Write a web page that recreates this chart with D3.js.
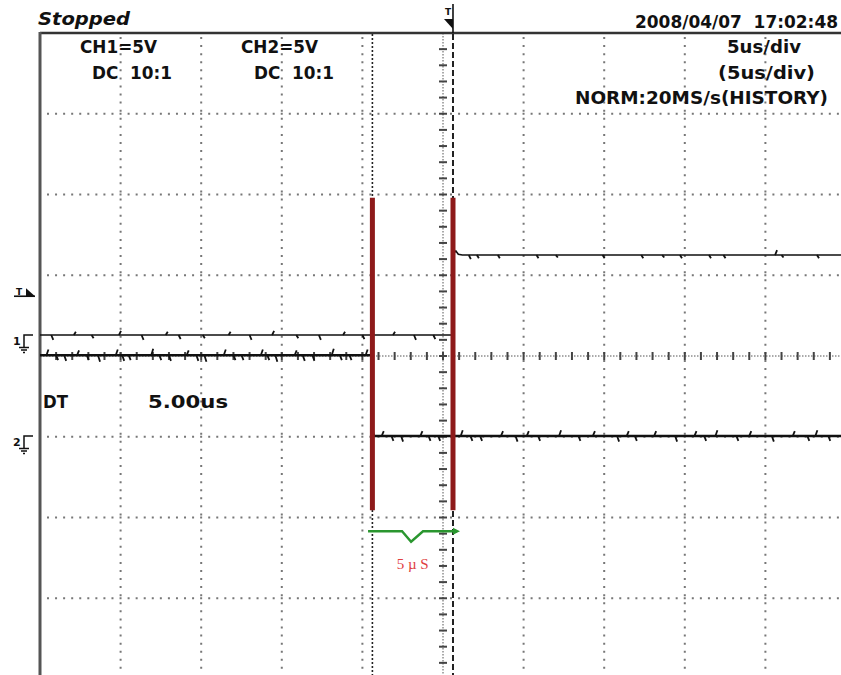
<!DOCTYPE html>
<html>
<head>
<meta charset="utf-8">
<title>Scope capture: DT 5us</title>
<script src="https://cdnjs.cloudflare.com/ajax/libs/d3/7.8.5/d3.min.js"></script>
<style>
  body { margin: 0; background: #fff; }
  svg text { font-family: "DejaVu Sans", sans-serif; font-weight: bold; fill: #111; white-space: pre; }
</style>
</head>
<body>
<svg id="svg" width="841" height="675"></svg>
<script>
// scope settings
const usPerDiv = 5
const voltsPerDiv = 5
const timeDivs = [-5, 5]
const voltDivs = [-4, 4]

// channel ground positions (in div from centre)
const ch1Offset = 0.26
const ch2Offset = -0.99
const trigTime = 0.62
const trigLevel = 2.4      // volts on CH1

// traces (us, V)
const ch1Time = [-25, 0.52, 0.62, 0.7, 0.8, 0.95, 1.2, 25]
const ch1Volt = [0, 0, 0.2, 5.1, 5.2, 5.0, 4.95, 4.95]
const ch2Time = [-25, -4.44, -4.38, -4.3, 25]
const ch2Volt = [5.0, 5.0, 0.3, 0, 0]

// little glitches (us, V offset)
const ch1LowNoiseT = [-24.3, -22.9, -21.8, -20.1, -18.7, -17.2, -16.4, -14.9, -13.3, -12.0, -10.6, -9.1, -7.7, -6.2, -5.0, -3.1, -1.8, -0.6]
const ch1LowNoiseV = [-0.3, 0.2, -0.2, 0.25, -0.3, 0.2, -0.25, -0.2, 0.2, -0.3, 0.25, -0.2, -0.3, 0.2, -0.25, 0.2, -0.3, -0.25]
const ch2HighNoiseT = [-24.6, -24.0, -23.5, -22.7, -22.1, -21.4, -20.3, -19.9, -19.5, -18.1, -17.6, -17.0, -15.9, -15.3, -14.8, -13.6, -13.0, -12.5, -11.3, -10.9, -10.4, -9.2, -8.7, -8.1, -6.9, -6.4, -5.8, -4.8]
const ch2HighNoiseV = [0.35, -0.3, -0.35, 0.3, -0.3, -0.4, 0.35, -0.35, -0.3, 0.4, -0.3, -0.35, 0.3, -0.35, -0.4, 0.35, -0.3, -0.3, 0.35, -0.3, -0.4, 0.3, -0.35, -0.35, 0.4, -0.3, -0.3, 0.35]
const ch1HighNoiseT = [1.6, 2.1, 3.4, 5.8, 7.0, 9.9, 12.3, 13.6, 14.7, 16.5, 17.4, 20.6, 21.0, 23.2]
const ch1HighNoiseV = [-0.25, -0.2, -0.2, -0.2, -0.15, -0.2, -0.2, -0.15, -0.2, -0.2, -0.2, 0.3, -0.15, -0.2]
const ch2LowNoiseT = [-3.8, -3.2, -2.6, -1.4, -0.9, -0.3, 1.1, 1.7, 2.3, 3.6, 4.5, 5.2, 5.9, 7.2, 8.4, 9.3, 10.8, 11.4, 11.9, 13.1, 14.4, 15.6, 16.2, 16.9, 18.2, 19.0, 20.4, 21.7, 22.6, 23.1, 23.9]
const ch2LowNoiseV = [0.3, -0.3, -0.35, 0.3, -0.3, -0.3, 0.35, -0.3, -0.3, 0.3, -0.35, 0.3, -0.3, 0.35, -0.3, 0.3, -0.35, 0.3, -0.3, 0.3, -0.35, 0.3, -0.3, 0.35, -0.3, 0.3, -0.35, 0.3, -0.3, 0.35, -0.3]

// cursors
const cursorTimes = [-4.38, 0.62]
const cursorBarDiv = [1.96, -1.91]
const dtArrowT = [-4.65, -2.54, -1.98, -1.24, 0.87]
const dtArrowDiv = [-2.17, -2.17, -2.3, -2.17, -2.17]

const svg = d3.select('#svg')
const x = d3.scaleLinear().domain([timeDivs[0] * usPerDiv, timeDivs[1] * usPerDiv]).range([40, 846])
const y = d3.scaleLinear().domain(voltDivs).range([679, 33])
const divW = x(usPerDiv) - x(0)
const divH = y(0) - y(1)

const ch1Y = v => y(ch1Offset + v / voltsPerDiv)
const ch2Y = v => y(ch2Offset + v / voltsPerDiv)

// dotted grid
const grid = svg.append('g')
d3.range(timeDivs[0] + 1, timeDivs[1] + 1).filter(d => d != 0).forEach(d => {
  grid.append('line')
    .attr('x1', x(d * usPerDiv)).attr('x2', x(d * usPerDiv))
    .attr('y1', y(4) + 4).attr('y2', 675)
    .attr('stroke', '#777').attr('stroke-width', 2)
    .attr('stroke-dasharray', `2 ${divH / 10 - 2}`)
})
d3.range(voltDivs[0] + 1, voltDivs[1]).filter(d => d != 0).forEach(d => {
  grid.append('line')
    .attr('y1', y(d)).attr('y2', y(d))
    .attr('x1', x(-25) + 7).attr('x2', 841)
    .attr('stroke', '#777').attr('stroke-width', 2)
    .attr('stroke-dasharray', `2 ${divW / 10 - 2}`)
})

// centre axes with minor ticks (5 per div)
grid.append('line')
  .attr('x1', x(-25)).attr('x2', 841).attr('y1', y(0)).attr('y2', y(0))
  .attr('stroke', '#555').attr('stroke-width', 1).attr('stroke-dasharray', '1.5 1.5')
grid.append('line')
  .attr('x1', x(0)).attr('x2', x(0)).attr('y1', y(4)).attr('y2', 675)
  .attr('stroke', '#555').attr('stroke-width', 1).attr('stroke-dasharray', '1.5 1.5')
grid.selectAll('.xt')
  .data(d3.range(-25, 26, usPerDiv / 5))
  .enter().append('line')
  .attr('x1', d => x(d)).attr('x2', d => x(d))
  .attr('y1', y(0) - 4).attr('y2', y(0) + 4)
  .attr('stroke', '#444').attr('stroke-width', 2)
grid.selectAll('.yt')
  .data(d3.range(-20, 21).map(i => i / 5))
  .enter().append('line')
  .attr('y1', d => y(d)).attr('y2', d => y(d))
  .attr('x1', x(0) - 4).attr('x2', x(0) + 4)
  .attr('stroke', '#444').attr('stroke-width', 2)

// frame
svg.append('line').attr('x1', 40).attr('x2', 841).attr('y1', 33).attr('y2', 33)
  .attr('stroke', '#333').attr('stroke-width', 2.5)
svg.append('line').attr('x1', 40).attr('x2', 40).attr('y1', 32).attr('y2', 675)
  .attr('stroke', '#555').attr('stroke-width', 3)

// cursor lines, full height
svg.append('line')
  .attr('x1', x(cursorTimes[0])).attr('x2', x(cursorTimes[0])).attr('y1', 34).attr('y2', 675)
  .attr('stroke', '#222').attr('stroke-width', 1.6).attr('stroke-dasharray', '2 2')
svg.append('line')
  .attr('x1', x(cursorTimes[1])).attr('x2', x(cursorTimes[1])).attr('y1', 34).attr('y2', 675)
  .attr('stroke', '#222').attr('stroke-width', 2).attr('stroke-dasharray', '6 3')

// traces
const line = d3.line()
function drawTrace(ts, vs, toY, w) {
  svg.append('path')
    .attr('d', line(ts.map((t, i) => [x(t), toY(vs[i])])))
    .attr('fill', 'none').attr('stroke', '#111').attr('stroke-width', w)
}
function drawNoise(ts, vs, level, toY) {
  svg.append('g').selectAll('line')
    .data(ts).enter().append('line')
    .attr('x1', d => x(d)).attr('x2', d => x(d) + 2)
    .attr('y1', toY(level)).attr('y2', (d, i) => toY(level + vs[i]))
    .attr('stroke', '#111').attr('stroke-width', 1.8)
}
drawTrace(ch1Time, ch1Volt, ch1Y, 1.6)
drawTrace(ch2Time, ch2Volt, ch2Y, 2.6)
drawNoise(ch1LowNoiseT, ch1LowNoiseV, 0, ch1Y)
drawNoise(ch1HighNoiseT, ch1HighNoiseV, 4.95, ch1Y)
drawNoise(ch2HighNoiseT, ch2HighNoiseV, 5.0, ch2Y)
drawNoise(ch2LowNoiseT, ch2LowNoiseV, 0, ch2Y)

// red cursor bars
svg.selectAll('.bar')
  .data(cursorTimes).enter().append('rect')
  .attr('x', d => x(d) - 2.5).attr('width', 5)
  .attr('y', y(cursorBarDiv[0])).attr('height', y(cursorBarDiv[1]) - y(cursorBarDiv[0]))
  .attr('fill', '#8e1a1a')

// green DT arrow
svg.append('path')
  .attr('d', line(dtArrowT.map((t, i) => [x(t), y(dtArrowDiv[i])])))
  .attr('fill', 'none').attr('stroke', '#2a962f').attr('stroke-width', 2.4)
const ax = x(dtArrowT[dtArrowT.length - 1]), ay = y(dtArrowDiv[0])
svg.append('path')
  .attr('d', `M${ax + 3},${ay} L${ax - 4},${ay - 3.5} L${ax - 4},${ay + 3.5} Z`)
  .attr('fill', '#2a962f')
svg.append('text')
  .attr('x', (x(cursorTimes[0]) + x(cursorTimes[1])) / 2).attr('y', 569)
  .attr('text-anchor', 'middle')
  .style('font-family', '"Liberation Serif", serif').style('font-weight', 'normal')
  .style('fill', '#e0403f').style('font-size', '15px')
  .text('5 µ S')

// text labels
function label(txt, lx, ly, len, size) {
  return svg.append('text').attr('x', lx).attr('y', ly)
    .attr('textLength', len).attr('lengthAdjust', 'spacingAndGlyphs')
    .style('font-size', (size || 17) + 'px')
    .text(txt)
}
label('Stopped', 38, 25, 92, 18).style('font-style', 'italic')
label('2008/04/07  17:02:48', 635, 28, 203)
label('CH1=5V', 80, 53, 77)
label('DC  10:1', 92, 79, 80)
label('CH2=5V', 241, 53, 77)
label('DC  10:1', 254, 79, 80)
label('5us/div', 727, 53, 74)
label('(5us/div)', 718, 79, 97)
label('NORM:20MS/s(HISTORY)', 575, 104, 253)
label('DT', 43, 408, 25)
label(d3.format('.2f')(cursorTimes[1] - cursorTimes[0]) + 'us', 148, 408, 80)

// trigger position marker
const tx = x(trigTime)
svg.append('line').attr('x1', tx).attr('x2', tx).attr('y1', 4).attr('y2', 33)
  .attr('stroke', '#111').attr('stroke-width', 1.6)
svg.append('path').attr('d', `M${tx - 9},19 L${tx},19 L${tx},29 Z`).attr('fill', '#111')
svg.append('text').attr('x', tx - 8).attr('y', 15).style('font-size', '9px').text('T')

// trigger level marker
const ty = ch1Y(trigLevel)
svg.append('line').attr('x1', 14).attr('x2', 35).attr('y1', ty).attr('y2', ty)
  .attr('stroke', '#111').attr('stroke-width', 1.6)
svg.append('path').attr('d', `M26,${ty - 8} L26,${ty} L35,${ty} Z`).attr('fill', '#111')
svg.append('text').attr('x', 16).attr('y', ty - 1.5).style('font-size', '9px').text('T')

// ground markers
function ground(num, gy) {
  svg.append('text').attr('x', 13).attr('y', gy + 10).style('font-size', '11px').text(num)
  svg.append('path')
    .attr('d', `M33,${gy} H24 V${gy + 12} M19,${gy + 12.5} H29 M21,${gy + 15} H27 M23,${gy + 17.5} H25`)
    .attr('fill', 'none').attr('stroke', '#111').attr('stroke-width', 1.5)
}
ground('1', y(ch1Offset))
ground('2', y(ch2Offset))
</script>
</body>
</html>
